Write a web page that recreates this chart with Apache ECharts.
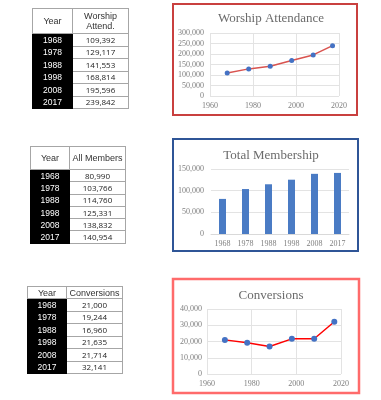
<!DOCTYPE html>
<html lang="en">
<head>
<meta charset="UTF-8">
<title>Church Stats</title>
<script src="https://cdn.jsdelivr.net/npm/echarts@6/dist/echarts.min.js"></script>
<style>
    body { margin: 0; background: #fff; }
    #chart { position: absolute; left: 0; top: 0; width: 381px; height: 400px; }
    .tbl {
        position: absolute;
        border-collapse: collapse;
        font-family: "Liberation Sans", Arial, sans-serif;
        font-size: 8.5px;
        table-layout: fixed;
    }
    .tbl td, .tbl th {
        padding: 0;
        text-align: center;
        border: 1px solid #a6a6a6;
        line-height: 10px;
    }
    .tbl th { font-weight: normal; color: #333; background: #fff; font-size: 9px; }
    .tbl td.yr { background: #000; color: #fff; border-color: #000; }
    .tbl td.val { color: #222; font-family: "Open Sans", "Liberation Sans", sans-serif; font-size: 8px; }
</style>
</head>
<body>
<div id="chart"></div>
<div id="tables"></div>
<script>
    // data
    let years = [1968, 1978, 1988, 1998, 2008, 2017];
    let worship = [109392, 129117, 141553, 168814, 195596, 239842];
    let members = [80990, 103766, 114760, 125331, 138832, 140954];
    let conversions = [21000, 19244, 16960, 21635, 21714, 32141];

    // tables (html)
    function makeTable(cfg) {
        let t = document.createElement('table');
        t.className = 'tbl';
        t.style.left = cfg.left + 'px';
        t.style.top = cfg.top + 'px';
        let html = '<colgroup><col style="width:' + cfg.w1 + 'px"><col style="width:' + cfg.w2 + 'px"></colgroup>';
        html += '<tr style="height:' + cfg.headH + 'px"><th>Year</th><th>' + cfg.head + '</th></tr>';
        for (let i = 0; i < years.length; i++) {
            html += '<tr style="height:' + cfg.rowH + 'px"><td class="yr">' + years[i] + '</td><td class="val">' +
                cfg.data[i].toLocaleString('en-US') + '</td></tr>';
        }
        t.innerHTML = html;
        document.getElementById('tables').appendChild(t);
    }
    makeTable({left: 32, top: 8, w1: 40, w2: 56, headH: 25, rowH: 12.5, head: 'Worship<br>Attend.', data: worship});
    makeTable({left: 30, top: 146, w1: 39, w2: 56, headH: 23, rowH: 12.3, head: 'All Members', data: members});
    makeTable({left: 27, top: 286, w1: 39, w2: 56, headH: 12, rowH: 12.5, head: 'Conversions', data: conversions});

    // charts
    var myChart = echarts.init(document.getElementById('chart'));
    var serif = '"Liberation Serif", "DejaVu Serif", serif';
    var labelStyle = {color: '#7f7f7f', fontSize: 8, fontFamily: serif};
    var gridColor = '#e3e3e3';
    var thousands = function (v) { return v.toLocaleString('en-US'); };
    var plainYear = function (v) { return String(v); };

    function pairs(vals) {
        return years.map(function (y, i) { return [y, vals[i]]; });
    }

    var option = {
        animation: false,
        title: [
            {text: 'Worship Attendance', left: 266, top: 7, textAlign: 'center',
                textStyle: {color: '#6b6b6b', fontSize: 13, fontWeight: 'normal', fontFamily: serif}},
            {text: 'Total Membership', left: 266, top: 144, textAlign: 'center',
                textStyle: {color: '#6b6b6b', fontSize: 13, fontWeight: 'normal', fontFamily: serif}},
            {text: 'Conversions', left: 266, top: 284, textAlign: 'center',
                textStyle: {color: '#6b6b6b', fontSize: 13, fontWeight: 'normal', fontFamily: serif}}
        ],
        grid: [
            {left: 210, top: 33, width: 129, height: 63},
            {left: 211, top: 169, width: 138, height: 65},
            {left: 207, top: 309, width: 134, height: 65}
        ],
        xAxis: [
            {gridIndex: 0, type: 'value', min: 1960, max: 2020, interval: 20,
                axisLine: {show: false}, axisTick: {show: false},
                splitLine: {show: true, lineStyle: {color: gridColor}},
                axisLabel: Object.assign({margin: 6, formatter: plainYear}, labelStyle)},
            {gridIndex: 1, type: 'category', data: years.map(String),
                axisLine: {show: true, lineStyle: {color: '#d9d9d9'}}, axisTick: {show: false},
                axisLabel: Object.assign({margin: 6, interval: 0}, labelStyle)},
            {gridIndex: 2, type: 'value', min: 1960, max: 2020, interval: 20,
                axisLine: {show: false}, axisTick: {show: false},
                splitLine: {show: true, lineStyle: {color: gridColor}},
                axisLabel: Object.assign({margin: 6, formatter: plainYear}, labelStyle)}
        ],
        yAxis: [
            {gridIndex: 0, type: 'value', min: 0, max: 300000, interval: 50000,
                axisLine: {show: false}, axisTick: {show: false},
                splitLine: {lineStyle: {color: gridColor}},
                axisLabel: Object.assign({margin: 6, formatter: thousands}, labelStyle)},
            {gridIndex: 1, type: 'value', min: 0, max: 150000, interval: 50000,
                axisLine: {show: false}, axisTick: {show: false},
                splitLine: {lineStyle: {color: gridColor}},
                axisLabel: Object.assign({margin: 7, formatter: thousands}, labelStyle)},
            {gridIndex: 2, type: 'value', min: 0, max: 40000, interval: 10000,
                axisLine: {show: false}, axisTick: {show: false},
                splitLine: {lineStyle: {color: gridColor}},
                axisLabel: Object.assign({margin: 5, formatter: thousands}, labelStyle)}
        ],
        series: [
            {name: 'Worship Attendance', type: 'line', xAxisIndex: 0, yAxisIndex: 0,
                data: pairs(worship), symbol: 'circle', symbolSize: 5,
                lineStyle: {color: '#d9534f', width: 1.5},
                itemStyle: {color: '#4472c4'}},
            {name: 'Total Membership', type: 'bar', xAxisIndex: 1, yAxisIndex: 1,
                data: members, barWidth: 7,
                itemStyle: {color: '#4a7bc4'}},
            {name: 'Conversions', type: 'line', xAxisIndex: 2, yAxisIndex: 2,
                data: pairs(conversions), symbol: 'circle', symbolSize: 6,
                lineStyle: {color: '#ff0000', width: 1.5},
                itemStyle: {color: '#4472c4'}}
        ],
        graphic: [
            {type: 'rect', shape: {x: 173, y: 4, width: 184, height: 111}, z: 100,
                style: {fill: 'none', stroke: '#c9403f', lineWidth: 2}},
            {type: 'rect', shape: {x: 173, y: 139, width: 185, height: 112}, z: 100,
                style: {fill: 'none', stroke: '#2f5597', lineWidth: 2}},
            {type: 'rect', shape: {x: 173, y: 279, width: 186, height: 114}, z: 100,
                style: {fill: 'none', stroke: '#ff6b6b', lineWidth: 2.5}}
        ]
    };
    myChart.setOption(option);
</script>
</body>
</html>
